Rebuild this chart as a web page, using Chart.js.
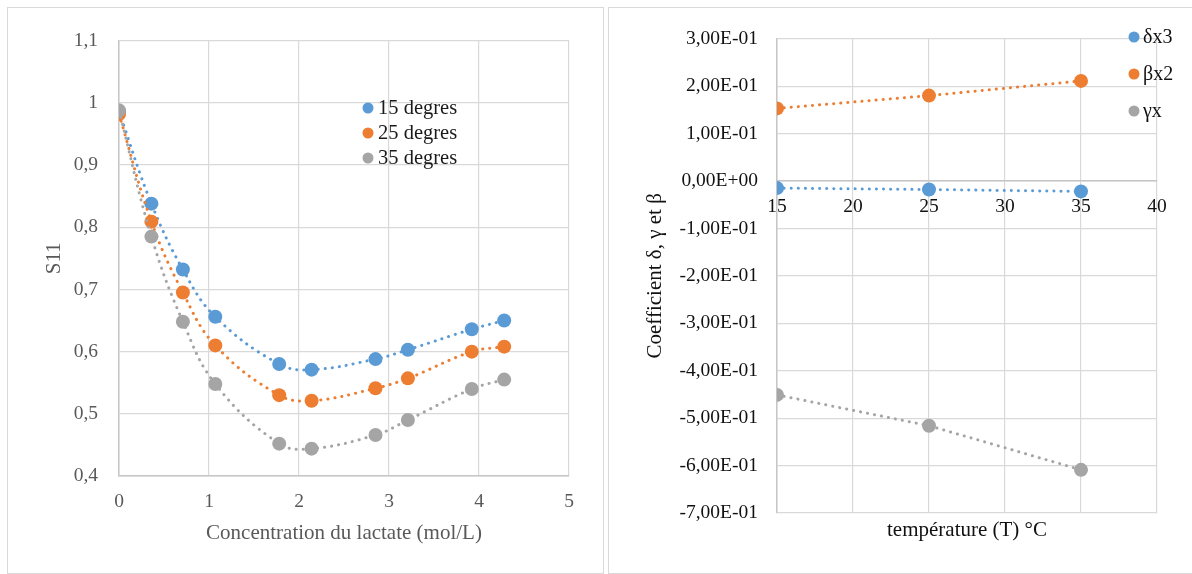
<!DOCTYPE html>
<html>
<head>
<meta charset="utf-8">
<script src="https://cdn.jsdelivr.net/npm/chart.js@4/dist/chart.umd.min.js"></script>
<style>
  html, body { margin:0; padding:0; background:#fff; overflow:hidden; width:1192px; height:574px; }
  .frame { position:absolute; box-sizing:border-box; border:1px solid #D9D9D9; background:#fff; }
  #f1 { left:7px; top:7px; width:597px; height:567px; }
  #f2 { left:608px; top:7px; width:600px; height:567px; }
  canvas { display:block; }
</style>
</head>
<body>
<div class="frame" id="f1"><canvas id="c1" width="595" height="565" style="width:595px;height:565px"></canvas></div>
<div class="frame" id="f2"><canvas id="c2" width="583" height="565" style="width:583px;height:565px"></canvas></div>
<script>
// ---- Left chart data ----
const concentrations = [0, 0.36, 0.71, 1.07, 1.78, 2.14, 2.85, 3.21, 3.92, 4.28];
const s11_15 = [0.986, 0.838, 0.732, 0.656, 0.580, 0.571, 0.588, 0.603, 0.636, 0.650];
const s11_25 = [0.982, 0.809, 0.695, 0.610, 0.530, 0.521, 0.541, 0.557, 0.600, 0.608];
const s11_35 = [0.988, 0.785, 0.648, 0.548, 0.452, 0.444, 0.466, 0.490, 0.540, 0.555];
const leftLabels = ['15 degres', '25 degres', '35 degres'];

// ---- Right chart data ----
const temperatures = [15, 25, 35];
const deltaX3 = [-0.015, -0.018, -0.022];
const betaX2 = [0.153, 0.180, 0.211];
const gammaX = [-0.451, -0.516, -0.609];
const rightLabels = ['δx3', 'βx2', 'γx'];

const BLUE = '#5B9BD5', ORANGE = '#ED7D31', GRAY = '#A5A5A5';
const GRID = '#D9D9D9';
const SERIF = "'Liberation Serif', 'Times New Roman', serif";

const toXY = (xs, ys) => xs.map((x, i) => ({x: x, y: ys[i]}));

const innerLegend = {
  id: 'innerLegend',
  afterDatasetsDraw(chart, args, o) {
    const ctx = chart.ctx;
    ctx.save();
    chart.data.datasets.forEach((ds, i) => {
      const y = o.y + i * o.gap;
      ctx.fillStyle = ds.backgroundColor;
      ctx.beginPath();
      ctx.arc(o.x, y, o.r, 0, Math.PI * 2);
      ctx.fill();
      ctx.fillStyle = o.color;
      ctx.font = o.font;
      ctx.textAlign = 'left';
      ctx.textBaseline = 'middle';
      ctx.fillText(ds.label, o.x + o.textGap, y + o.textDy);
    });
    ctx.restore();
  }
};

function mkDataset(label, color, data, radius, tension, order) {
  return {
    label: label, data: data, showLine: true, tension: tension,
    borderColor: color, backgroundColor: color, borderWidth: 3,
    borderDash: [0.1, 7], borderCapStyle: 'round',
    pointRadius: radius, pointBorderWidth: 0, pointBackgroundColor: color,
    order: order
  };
}

// ---- Left chart ----
const leftTickColor = '#595959';
new Chart(document.getElementById('c1'), {
  type: 'scatter',
  data: {
    datasets: [
      mkDataset(leftLabels[0], BLUE, toXY(concentrations, s11_15), 7, 0.4, 3),
      mkDataset(leftLabels[1], ORANGE, toXY(concentrations, s11_25), 7, 0.4, 2),
      mkDataset(leftLabels[2], GRAY, toXY(concentrations, s11_35), 7, 0.4, 1)
    ]
  },
  options: {
    responsive: false, animation: false,
    layout: { padding: { left: 0, right: 34, top: 29, bottom: 0 } },
    plugins: {
      legend: { display: false }, tooltip: { enabled: false },
      innerLegend: { x: 360, y: 100, gap: 25, r: 5.5, textGap: 10, textDy: 1,
        color: '#1a1a1a', font: "20.5px " + SERIF }
    },
    scales: {
      x: {
        type: 'linear', min: 0, max: 5,
        ticks: { stepSize: 1, color: leftTickColor, font: { family: SERIF, size: 19.5 }, padding: 14 },
        grid: { color: GRID, drawTicks: false, lineWidth: 1.2 },
        border: { color: '#C6C6C6', width: 1.5 },
        title: { display: true, text: 'Concentration du lactate (mol/L)', color: leftTickColor,
          font: { family: SERIF, size: 21 }, padding: { top: 0, bottom: 27 } },
        afterFit: s => { s.height = 97; }
      },
      y: {
        type: 'linear', min: 0.4, max: 1.1,
        ticks: { stepSize: 0.1, color: leftTickColor, font: { family: SERIF, size: 19.5 }, padding: 21,
          callback: v => String(Math.round(v * 10) / 10).replace('.', ',') },
        grid: { color: GRID, drawTicks: false, lineWidth: 1.2 },
        border: { color: '#C6C6C6', width: 1.5 },
        title: { display: true, text: 'S11', color: leftTickColor,
          font: { family: SERIF, size: 21 }, padding: { top: 34, bottom: 0 } },
        afterFit: s => { s.width = 111; }
      }
    }
  },
  plugins: [innerLegend]
});

// ---- Right chart ----
const rightTickColor = '#111111';
function sci(v) {
  let r = Math.round(v * 1e6) / 1e6;
  if (Object.is(r, -0)) r = 0;
  const s = r.toExponential(2);
  const m = s.split('e');
  const exp = parseInt(m[1], 10);
  const expStr = (exp < 0 ? '-' : '+') + String(Math.abs(exp)).padStart(2, '0');
  return m[0].replace('.', ',') + 'E' + expStr;
}
new Chart(document.getElementById('c2'), {
  type: 'scatter',
  data: {
    datasets: [
      mkDataset(rightLabels[0], BLUE, toXY(temperatures, deltaX3), 7, 0, 3),
      mkDataset(rightLabels[1], ORANGE, toXY(temperatures, betaX2), 7, 0, 2),
      mkDataset(rightLabels[2], GRAY, toXY(temperatures, gammaX), 7, 0, 1)
    ]
  },
  options: {
    responsive: false, animation: false,
    layout: { padding: { left: 0, right: 35, top: 29, bottom: 0 } },
    plugins: {
      legend: { display: false }, tooltip: { enabled: false },
      innerLegend: { x: 525, y: 29, gap: 37, r: 5.5, textGap: 9, textDy: 1,
        color: rightTickColor, font: "20px " + SERIF }
    },
    scales: {
      x: {
        type: 'linear', min: 15, max: 40, position: { y: 0 },
        ticks: { stepSize: 5, color: rightTickColor, font: { family: SERIF, size: 19.5 }, padding: 14 },
        grid: { color: GRID, drawTicks: false, lineWidth: 1.2 },
        border: { color: '#C6C6C6', width: 1.5 }
      },
      x2: {
        type: 'linear', min: 15, max: 40, position: 'bottom', axis: 'x',
        ticks: { display: false }, grid: { display: false, drawTicks: false }, border: { display: false },
        title: { display: true, text: 'température (T) °C', color: rightTickColor,
          font: { family: SERIF, size: 21 }, padding: { top: 0, bottom: 30 } },
        afterFit: s => { s.height = 60; }
      },
      y: {
        type: 'linear', min: -0.7, max: 0.3,
        ticks: { stepSize: 0.1, color: rightTickColor, font: { family: SERIF, size: 19.5 }, padding: 19,
          callback: v => sci(v) },
        grid: { color: GRID, drawTicks: false, lineWidth: 1.2 },
        border: { color: '#C6C6C6', width: 1.5 },
        title: { display: true, text: 'Coefficient δ, γ et β', color: rightTickColor,
          font: { family: SERIF, size: 21 }, padding: { top: 34, bottom: 0 } },
        afterFit: s => { s.width = 168; }
      }
    }
  },
  plugins: [innerLegend]
});
</script>
</body>
</html>
